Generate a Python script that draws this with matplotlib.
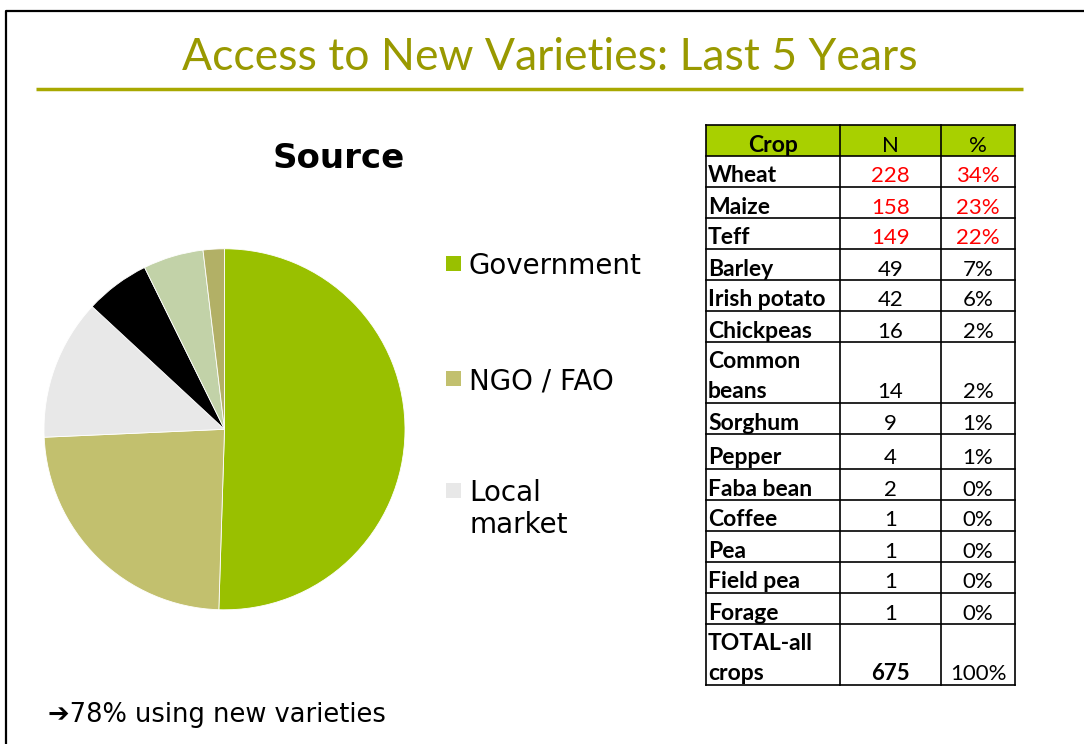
import matplotlib
matplotlib.use("Agg")
import matplotlib.pyplot as plt
from matplotlib.patches import Rectangle

# ---------------- data ----------------
title = "Access to New Varieties: Last 5 Years"
pie_title = "Source"
source_labels = ["Government", "NGO / FAO", "Local\nmarket"]
source_share = [50.5, 23.8, 12.6, 5.8, 5.4, 1.9]
source_colors = ["#99C000", "#C2C06E", "#E8E8E8", "#000000", "#C2D2A8", "#B2B066"]

crops = ["Wheat", "Maize", "Teff", "Barley", "Irish potato", "Chickpeas",
         "Common\nbeans", "Sorghum", "Pepper", "Faba bean", "Coffee", "Pea",
         "Field pea", "Forage", "TOTAL-all\ncrops"]
crop_n = ["228", "158", "149", "49", "42", "16", "14", "9", "4", "2", "1", "1", "1", "1", "675"]
crop_pct = ["34%", "23%", "22%", "7%", "6%", "2%", "2%", "1%", "1%", "0%", "0%", "0%", "0%", "0%", "100%"]
header = ["Crop", "N", "%"]
footer = "\u279478% using new varieties"

# ---------------- figure ----------------
W, H = 1084, 744
fig = plt.figure(figsize=(W / 100, H / 100), dpi=100)
ax = fig.add_axes([0, 0, 1, 1])
ax.set_xlim(0, W)
ax.set_ylim(H, 0)
ax.axis("off")

# slide border
ax.plot([5.5, 5.5, W], [H, 10.5, 10.5], color="black", lw=1.6, solid_capstyle="butt")

# title + rule
ax.text(550, 58, title, fontsize=32, family="Lato", color="#999900",
        ha="center", va="center")
ax.plot([36, 1023], [89, 89], color="#A8A800", lw=2.5, solid_capstyle="butt")

# pie
cx, cy, r = 224.5, 429.3, 180.5
pax = fig.add_axes([(cx - r) / W, (H - cy - r) / H, 2 * r / W, 2 * r / H])
pax.pie(source_share, colors=source_colors, startangle=90, counterclock=False,
        wedgeprops=dict(linewidth=0.6, edgecolor="white"))
pax.set_xlim(-1, 1)
pax.set_ylim(-1, 1)
pax.set_aspect("auto")
pax.axis("off")

ax.text(339, 158, pie_title, fontsize=24.5, fontweight="bold", family="DejaVu Sans",
        ha="center", va="center")

# legend (manual)
leg_y = [263, 378, 490]
for lab, col, y in zip(source_labels, source_colors, leg_y):
    ax.add_patch(Rectangle((446, y - 7.5), 15, 15, facecolor=col, edgecolor="none"))
    lines = lab.split("\n")
    for k, ln in enumerate(lines):
        ax.text(469, y + 32 * k, ln, fontsize=20, family="DejaVu Sans", ha="left",
                va="center_baseline")

# table
x_edges = [706, 840, 941, 1015]
row_h = [31] + [31] * 6 + [61, 31, 35] + [31] * 5 + [61]
top = 125
red_rows = 3
fs = 16
fs_name = 16.5
tfam = "Lato"

y = top
rows = [header] + [[c, n, p] for c, n, p in zip(crops, crop_n, crop_pct)]
for i, (row, h) in enumerate(zip(rows, row_h)):
    if i == 0:
        ax.add_patch(Rectangle((x_edges[0], y), x_edges[-1] - x_edges[0], h,
                               facecolor="#A8D000", edgecolor="none", zorder=1))
    base = y + h - 4.5
    col = "red" if 1 <= i <= red_rows else "black"
    is_total = (i == len(rows) - 1)
    if i == 0:
        ax.text((x_edges[0] + x_edges[1]) / 2, base, row[0], fontsize=fs_name, family=tfam,
                fontweight="bold", ha="center", va="baseline", zorder=3)
        ax.text((x_edges[1] + x_edges[2]) / 2, base, row[1], fontsize=fs, family=tfam,
                ha="center", va="baseline", zorder=3)
        ax.text((x_edges[2] + x_edges[3]) / 2, base, row[2], fontsize=fs, family=tfam,
                ha="center", va="baseline", zorder=3)
    else:
        lines = row[0].split("\n")
        for k, ln in enumerate(lines):
            ax.text(x_edges[0] + 2, base - 31 * (len(lines) - 1 - k), ln, fontsize=fs_name,
                    family=tfam, fontweight="bold", ha="left", va="baseline", zorder=3)
        ax.text((x_edges[1] + x_edges[2]) / 2, base, row[1], fontsize=fs, family=tfam,
                color=col, fontweight="bold" if is_total else "normal",
                ha="center", va="baseline", zorder=3)
        ax.text((x_edges[2] + x_edges[3]) / 2, base, row[2], fontsize=fs, family=tfam,
                color=col, ha="center", va="baseline", zorder=3)
    y += h

# grid lines
y = top
ys = [top]
for h in row_h:
    y += h
    ys.append(y)
for yy in ys:
    ax.plot([x_edges[0], x_edges[-1]], [yy, yy], color="black", lw=1.2, zorder=4,
            solid_capstyle="projecting")
for xx in x_edges:
    ax.plot([xx, xx], [ys[0], ys[-1]], color="black", lw=1.2, zorder=4,
            solid_capstyle="projecting")

# footer
ax.text(48, 715, footer, fontsize=18.5, family="DejaVu Sans", ha="left", va="center")

fig.savefig("out.png", dpi=100)
